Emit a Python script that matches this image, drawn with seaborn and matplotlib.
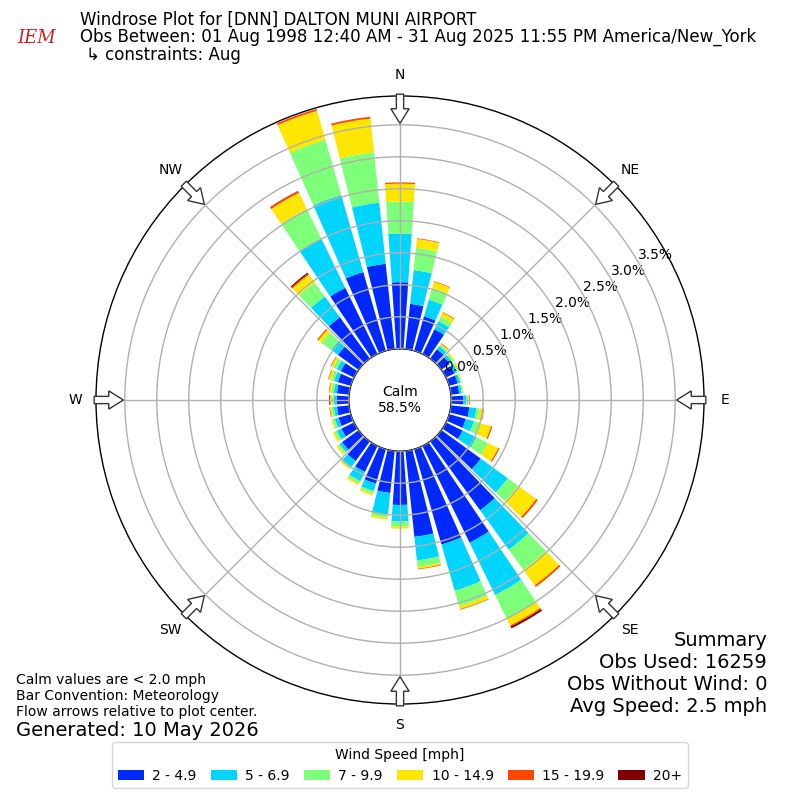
import numpy as np
import matplotlib
matplotlib.use("Agg")
import matplotlib.pyplot as plt
from matplotlib.patches import FancyArrow
import seaborn as sns

# wind directions (degrees, meteorological) and percent of obs per speed bin
directions = list(range(0, 360, 10))
speed_bins = ["2 - 4.9", "5 - 6.9", "7 - 9.9", "10 - 14.9", "15 - 19.9", "20+"]

bin_2_5 = [1.04, 0.71, 0.56, 0.43, 0.18, 0.16, 0.15, 0.14, 0.13, 0.19, 0.29, 0.27,
           0.29, 0.76, 1.33, 1.68, 1.55, 1.35, 0.84, 0.66, 0.56, 0.45, 0.38, 0.32,
           0.22, 0.20, 0.19, 0.19, 0.19, 0.21, 0.23, 0.40, 0.80, 1.15, 1.28, 1.34]
bin_5_7 = [0.76, 0.53, 0.27, 0.14, 0.06, 0.05, 0.05, 0.04, 0.04, 0.05, 0.11, 0.13,
           0.24, 0.52, 0.76, 0.91, 0.75, 0.37, 0.26, 0.34, 0.12, 0.16, 0.11, 0.05,
           0.08, 0.06, 0.05, 0.04, 0.05, 0.06, 0.07, 0.13, 0.40, 0.85, 1.25, 0.96]
bin_7_10 = [0.50, 0.35, 0.19, 0.08, 0.03, 0.03, 0.03, 0.02, 0.02, 0.03, 0.05, 0.10,
            0.20, 0.20, 0.39, 0.42, 0.25, 0.10, 0.08, 0.05, 0.04, 0.04, 0.03, 0.03,
            0.04, 0.04, 0.04, 0.03, 0.04, 0.05, 0.06, 0.19, 0.27, 0.52, 0.90, 0.79]
bin_10_15 = [0.28, 0.14, 0.10, 0.07, 0.02, 0.02, 0.02, 0.01, 0.01, 0.01, 0.06, 0.18,
             0.18, 0.35, 0.30, 0.11, 0.05, 0.03, 0.03, 0.03, 0.03, 0.03, 0.02, 0.03,
             0.03, 0.02, 0.02, 0.03, 0.03, 0.04, 0.04, 0.06, 0.15, 0.28, 0.47, 0.53]
bin_15_20 = [0.02, 0.01, 0.01, 0.01, 0.01, 0.0, 0.0, 0.0, 0.0, 0.01, 0.01, 0.02,
             0.02, 0.03, 0.03, 0.02, 0.01, 0.01, 0.0, 0.0, 0.0, 0.0, 0.0, 0.0,
             0.0, 0.0, 0.01, 0.01, 0.01, 0.01, 0.01, 0.02, 0.02, 0.03, 0.03, 0.03]
bin_20 = [0.0, 0.0, 0.0, 0.0, 0.0, 0.0, 0.0, 0.0, 0.0, 0.0, 0.0, 0.0,
          0.0, 0.0, 0.0, 0.03, 0.0, 0.0, 0.0, 0.0, 0.0, 0.0, 0.0, 0.0,
          0.0, 0.0, 0.0, 0.01, 0.0, 0.0, 0.0, 0.0, 0.02, 0.005, 0.0, 0.0]
series = [bin_2_5, bin_5_7, bin_7_10, bin_10_15, bin_15_20, bin_20]

compass = ["N", "NE", "E", "SE", "S", "SW", "W", "NW"]
rticks = [0.0, 0.5, 1.0, 1.5, 2.0, 2.5, 3.0, 3.5]
calm_pct = 58.5

sns.set_theme(style="white")
plt.rcParams["font.family"] = ["DejaVu Sans"]
plt.rcParams["axes.axisbelow"] = False
for key in ["text.color", "axes.labelcolor", "xtick.color", "ytick.color"]:
    plt.rcParams[key] = "black"

colors = plt.get_cmap("jet")(np.arange(1, 7) / 6.0)

fig = plt.figure(figsize=(8, 8), dpi=100)
ax = fig.add_axes([0.12, 0.12, 0.76, 0.76], projection="polar")
ax.set_theta_zero_location("N")
ax.set_theta_direction(-1)

theta = np.deg2rad(directions)
bottom = np.zeros(len(directions))
handles = []
for vals, col, lab in zip(series, colors, speed_bins):
    vals = np.array(vals)
    b = ax.bar(theta, vals, width=np.deg2rad(8), bottom=bottom, color=col,
               edgecolor="none", linewidth=0, label=lab, zorder=1)
    handles.append(b)
    bottom = bottom + vals

ax.set_rorigin(-0.8)
ax.set_ylim(0, 3.95)
ax.set_yticks(rticks)
ax.set_yticklabels(["%.1f%%" % t for t in rticks], fontsize=10)
ax.set_rlabel_position(60)
ax.set_xticks(np.deg2rad(np.arange(0, 360, 45)))
ax.set_xticklabels(compass, fontsize=10)
ax.tick_params(axis="x", pad=2)
ax.grid(True, color="#b0b0b0", linewidth=1)
for sp in ax.spines.values():
    sp.set_color("black")
    sp.set_linewidth(1)

ax.text(0.5, 0.5, "Calm\n%.1f%%" % calm_pct, transform=ax.transAxes,
        ha="center", va="center", fontsize=10, zorder=6)

# flow arrows at the rim pointing toward the center
for d in range(0, 360, 45):
    ux, uy = np.sin(np.deg2rad(d)), np.cos(np.deg2rad(d))
    x0, y0 = 0.5 + 0.503 * ux, 0.5 + 0.503 * uy
    arr = FancyArrow(x0, y0, -0.048 * ux, -0.048 * uy, width=0.012,
                     head_width=0.03, head_length=0.024,
                     length_includes_head=True, transform=ax.transAxes,
                     facecolor="white", edgecolor="#333333", linewidth=1,
                     clip_on=False, zorder=5)
    ax.add_patch(arr)

fig.text(0.1, 0.975, "Windrose Plot for [DNN] DALTON MUNI AIRPORT",
         fontsize=12, va="center")
fig.text(0.1, 0.954,
         "Obs Between: 01 Aug 1998 12:40 AM - 31 Aug 2025 11:55 PM America/New_York",
         fontsize=12, va="center")
fig.text(0.107, 0.931, "\u21b3 constraints: Aug", fontsize=12, va="center")
fig.text(0.046, 0.952, "IEM", fontsize=13, color="#cc2222", style="italic",
         family="DejaVu Serif", ha="center", va="center")

for y, s in zip([0.2, 0.1725, 0.144, 0.1175],
                ["Summary", "Obs Used: 16259", "Obs Without Wind: 0",
                 "Avg Speed: 2.5 mph"]):
    fig.text(0.959, y, s, fontsize=14, ha="right", va="center")

for y, s in zip([0.15, 0.13, 0.11],
                ["Calm values are < 2.0 mph", "Bar Convention: Meteorology",
                 "Flow arrows relative to plot center."]):
    fig.text(0.02, y, s, fontsize=10, va="center")
fig.text(0.02, 0.0875, "Generated: 10 May 2026", fontsize=14, va="center")

fig.legend(handles=handles, labels=speed_bins, loc="lower center",
           bbox_to_anchor=(0.5, 0.006), ncol=6, title="Wind Speed [mph]",
           fontsize=10, title_fontsize=10, frameon=True,
           handlelength=1.9, handletextpad=0.6, columnspacing=1.0)

fig.savefig("out.png", dpi=100)
